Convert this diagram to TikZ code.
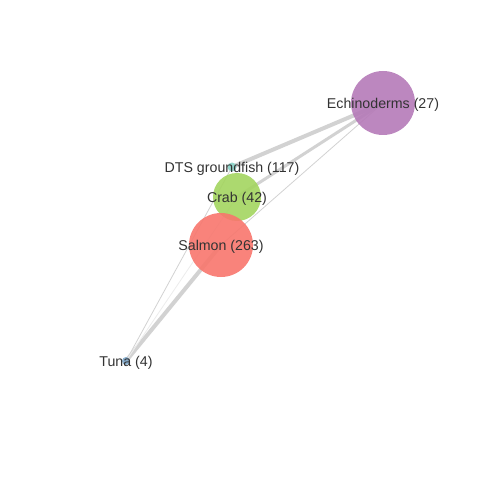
\documentclass[tikz,border=0pt]{standalone}
\usepackage{fontspec}
\setmainfont{Liberation Sans}
\usetikzlibrary{positioning, backgrounds}
\definecolor{salmoncol}{HTML}{F8766D}
\definecolor{crabcol}{HTML}{A3D55F}
\definecolor{echinocol}{HTML}{B57AB8}
\definecolor{dtscol}{HTML}{8AD3C8}
\definecolor{tunacol}{HTML}{7FA8CB}
\definecolor{txtcol}{HTML}{333333}

\begin{document}
\begin{tikzpicture}[
    x=0.5pt, y=-0.5pt,
    blob/.style={circle, inner sep=0pt, draw=none, fill opacity=0.9},
    tag/.style={font=\fontsize{7.1}{8}\selectfont, text=txtcol, inner sep=0pt, yshift=-0.9pt},
    link/.style={draw=gray!35, line cap=round}
]
\useasboundingbox (0,0) rectangle (480,480);
% circles
\node[blob, fill=echinocol, minimum size=32pt] (echino) at (383,103) {};
\node[blob, fill=dtscol, minimum size=4.5pt] (dts) at (232,167) {};
\node[blob, fill=crabcol, minimum size=24pt] (crab) at (237,197) {};
\node[blob, fill=salmoncol, minimum size=32pt] (salmon) at (221,245) {};
\node[blob, fill=tunacol, minimum size=4pt] (tuna) at (126,361) {};
% links
\begin{scope}[on background layer]
\draw[link, line width=2pt] (echino.center) -- (dts.center);
\draw[link, line width=1.5pt] (echino.center) -- (crab.center);
\draw[link, line width=0.4pt] (echino.center) -- (salmon.center);
\draw[link, line width=2pt] (tuna.center) -- (salmon.center);
\draw[link, line width=0.4pt] (tuna.center) -- (dts.center);
\draw[link, draw=gray!15, line width=0.4pt] (tuna.center) -- (crab.center);
\end{scope}
% labels
\node[tag] at (echino.center) {Echinoderms (27)};
\node[tag] at (dts.center) {DTS groundfish (117)};
\node[tag] at (crab.center) {Crab (42)};
\node[tag] at (salmon.center) {Salmon (263)};
\node[tag] at (tuna.center) {Tuna (4)};
\end{tikzpicture}
\end{document}
